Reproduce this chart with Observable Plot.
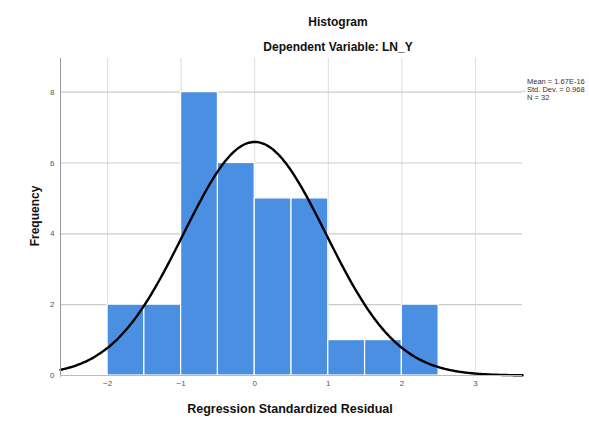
<!DOCTYPE html>
<html>
<head>
<meta charset="utf-8">
<script src="https://cdn.jsdelivr.net/npm/d3@7"></script>
<script src="https://cdn.jsdelivr.net/npm/@observablehq/plot@0.6"></script>
<style>
  html, body { margin: 0; padding: 0; background: #fff; overflow: hidden; }
  #wrap { position: relative; width: 589px; height: 421px; font-family: "Liberation Sans", Arial, sans-serif; }
  .t { position: absolute; font-weight: bold; color: #111; white-space: nowrap; }
</style>
</head>
<body>
<div id="wrap">
  <div class="t" id="title" style="left:0; width:676px; text-align:center; top:15px; font-size:12px;">Histogram</div>
  <div class="t" id="subtitle" style="left:0; width:676px; text-align:center; top:40px; font-size:12px;">Dependent Variable: LN_Y</div>
</div>
<script>
// ---- data ----
const binStarts = [-2, -1.5, -1, -0.5, 0, 0.5, 1, 1.5, 2];
const binEnds   = [-1.5, -1, -0.5, 0, 0.5, 1, 1.5, 2, 2.5];
const counts    = [2, 2, 8, 6, 5, 5, 1, 1, 2];
const xTicks    = [-2, -1, 0, 1, 2, 3];
const yTicks    = [0, 2, 4, 6, 8];
const statLabels = ["Mean = 1.67E-16", "Std. Dev. = 0.968", "N = 32"];
const meanVal = 0;        // 1.67E-16
const sdVal = 0.968;
const nVal = 32;
const binWidth = 0.5;

const bars = binStarts.map((s, i) => ({x1: s, x2: binEnds[i], y: counts[i]}));

// fitted normal curve from the stated mean / std. dev. / N
const xDomain = [-2.64, 3.64];
const curve = d3.range(0, 301).map(i => {
  const x = xDomain[0] + (xDomain[1] - xDomain[0]) * i / 300;
  const z = (x - meanVal) / sdVal;
  return {x, y: nVal * binWidth / (sdVal * Math.sqrt(2 * Math.PI)) * Math.exp(-0.5 * z * z)};
});

const chart = Plot.plot({
  width: 589,
  height: 421,
  marginLeft: 60,
  marginRight: 67,
  marginTop: 58,
  marginBottom: 46,
  style: {fontFamily: "Liberation Sans, Arial, sans-serif", background: "transparent", overflow: "visible"},
  x: {domain: xDomain, ticks: xTicks},
  y: {domain: [0, 8.95], ticks: yTicks},
  marks: [
    Plot.gridX(xTicks, {stroke: "#ddd", strokeOpacity: 1, strokeWidth: 1}),
    Plot.ruleY(yTicks.filter(d => d > 0), {stroke: "#ccc", strokeWidth: 1.2, x1: xDomain[0], x2: xDomain[1]}),
    Plot.rectY(bars, {x1: "x1", x2: "x2", y: "y", fill: "#4a8fe2", stroke: "#fff", strokeWidth: 1.2}),
    Plot.line(curve, {x: "x", y: "y", stroke: "#000", strokeWidth: 2.4, curve: "basis"}),
    Plot.ruleX([xDomain[0]], {stroke: "#999", strokeWidth: 1, y1: -0.05, y2: 8.95}),
    Plot.ruleY([0], {stroke: "#bbb", strokeWidth: 1.2}),
    Plot.axisX(xTicks, {tickSize: 0, tickPadding: 5, fontSize: 8, fill: "#555", label: null}),
    Plot.axisY(yTicks, {tickSize: 0, tickPadding: 6, fontSize: 8, fill: "#555", label: null})
  ]
});
document.getElementById("wrap").appendChild(chart);
chart.style.position = "absolute";
chart.style.left = "0px";
chart.style.top = "0px";

const svg = d3.select(chart);
// legend statistics to the right of the plot
statLabels.forEach((s, i) => {
  svg.append("text")
    .attr("x", 527).attr("y", 84 + i * 8)
    .attr("text-anchor", "start")
    .attr("font-size", 7.5).attr("fill", "#333")
    .attr("font-family", "Liberation Sans, Arial, sans-serif")
    .text(s);
});
// extend top gridline toward the legend
svg.append("line").attr("x1", 522).attr("x2", 526).attr("y1", 91).attr("y2", 91).attr("stroke", "#ccc");

// axis titles
svg.append("text")
  .attr("x", 290).attr("y", 413)
  .attr("text-anchor", "middle")
  .attr("font-size", 12.5).attr("font-weight", "bold").attr("fill", "#111")
  .attr("font-family", "Liberation Sans, Arial, sans-serif")
  .text("Regression Standardized Residual");
svg.append("text")
  .attr("transform", "translate(39,216) rotate(-90)")
  .attr("text-anchor", "middle")
  .attr("font-size", 12).attr("font-weight", "bold").attr("fill", "#111")
  .attr("font-family", "Liberation Sans, Arial, sans-serif")
  .text("Frequency");
</script>
</body>
</html>
